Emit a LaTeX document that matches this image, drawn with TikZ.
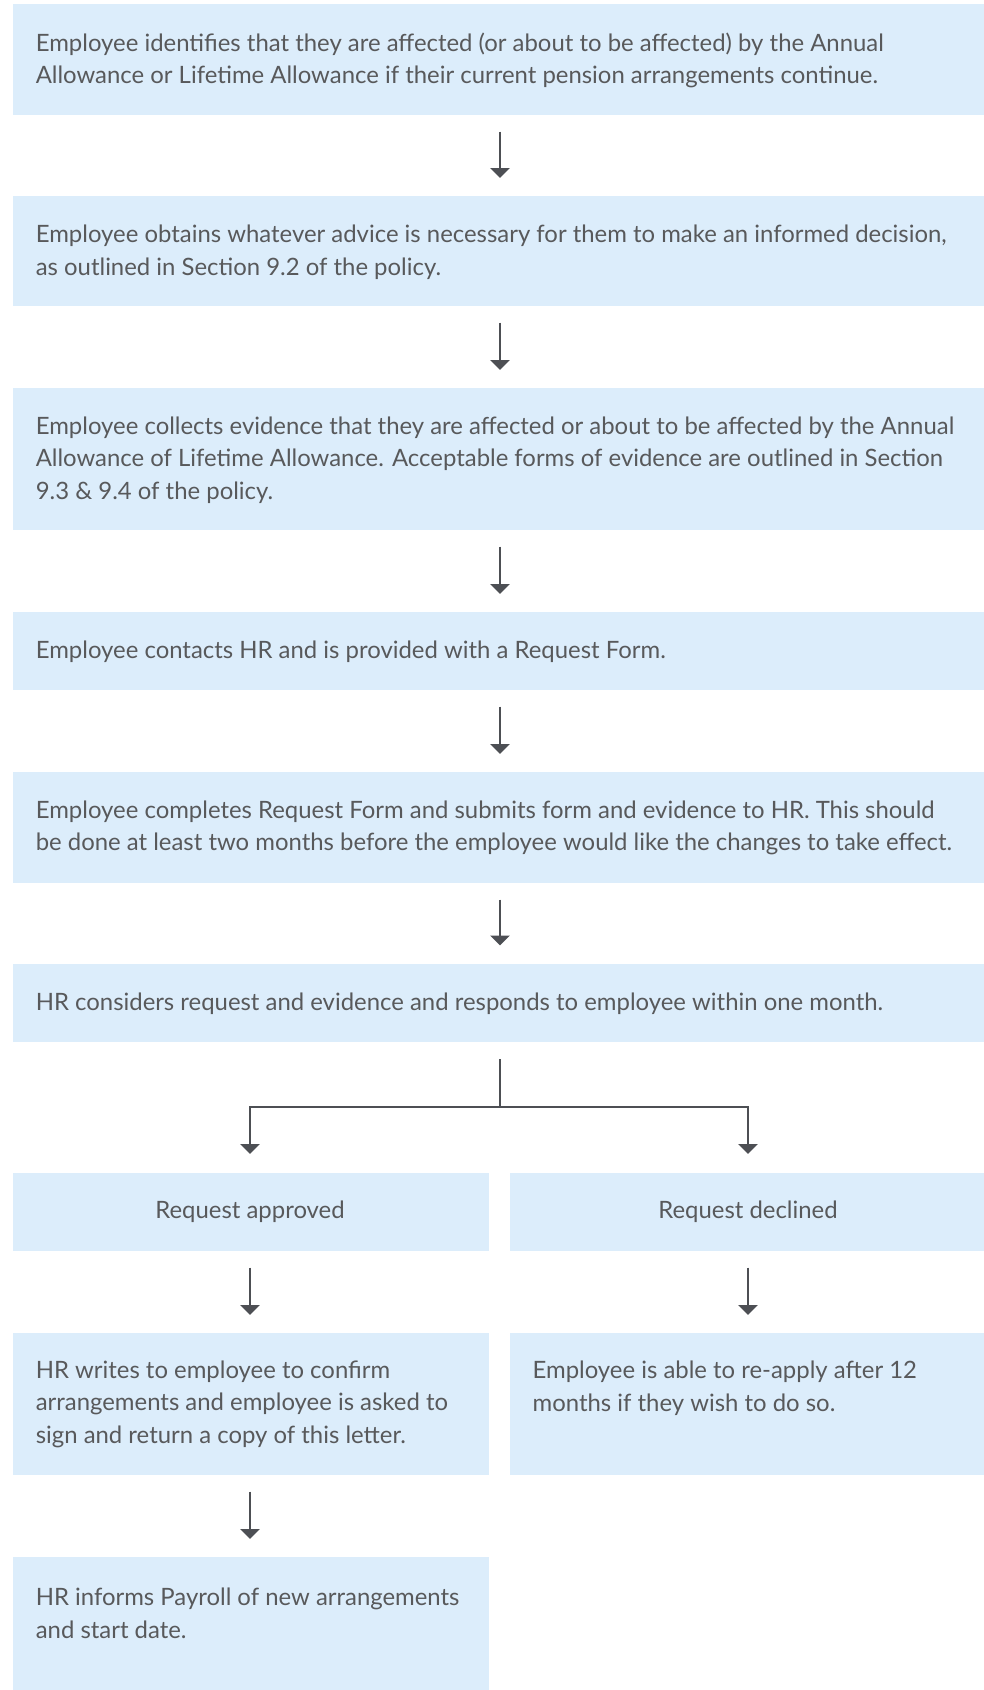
\documentclass[tikz,border=0pt]{standalone}
\usepackage{fontspec}
\setmainfont{Lato}
\usetikzlibrary{arrows.meta}
\definecolor{boxblue}{HTML}{DCEDFB}
\definecolor{txtgrey}{HTML}{58595B}
\definecolor{arrgrey}{HTML}{4D4F54}
\begin{document}
\begin{tikzpicture}[x=1pt,y=-1pt,
  box/.style={fill=boxblue, draw=none, inner sep=0pt, outer sep=0pt, anchor=north west},
  txt/.style={text=txtgrey, font=\fontsize{23.9}{32.3}\selectfont, align=left, inner sep=0pt, anchor=west},
  ctxt/.style={text=txtgrey, font=\fontsize{23.9}{32.3}\selectfont, align=center, inner sep=0pt, anchor=center},
  arr/.style={draw=arrgrey, line width=2.6pt, -{Triangle[width=19pt,length=10pt]}, shorten <=16.5pt, shorten >=18pt},
  ln/.style={draw=arrgrey, line width=2.6pt}]
\useasboundingbox (0,0) rectangle (984,1690);
\fill[white] (0,0) rectangle (984,1690);
\coordinate (ax) at (500,0);
\coordinate (lx) at (250,0);
\coordinate (rx) at (748,0);

\node[box, minimum width=971pt, minimum height=111pt] (b1) at (13,4) {};
\node[box, minimum width=971pt, minimum height=110pt] (b2) at (13,196) {};
\node[box, minimum width=971pt, minimum height=142pt] (b3) at (13,388) {};
\node[box, minimum width=971pt, minimum height=78pt] (b4) at (13,612) {};
\node[box, minimum width=971pt, minimum height=111pt] (b5) at (13,772) {};
\node[box, minimum width=971pt, minimum height=78.5pt] (b6) at (13,963.5) {};
\node[box, minimum width=476pt, minimum height=78pt] (b7a) at (13,1173) {};
\node[box, minimum width=474pt, minimum height=78pt] (b7b) at (510,1173) {};
\node[box, minimum width=476pt, minimum height=142pt] (b8a) at (13,1333) {};
\node[box, minimum width=474pt, minimum height=142pt] (b8b) at (510,1333) {};
\node[box, minimum width=476pt, minimum height=133pt] (b9) at (13,1557) {};

\node[txt] (t1) at (35.6,60.3) {Employee identifies that they are affected (or about to be affected) by the Annual\\Allowance or Lifetime Allowance if their current pension arrangements continue.};
\node[txt] (t2) at (35.6,252.1) {Employee obtains whatever advice is necessary for them to make an informed decision,\\as outlined in Section 9.2 of the policy.};
\node[txt] (t3) at (35.6,460.1) {Employee collects evidence that they are affected or about to be affected by the Annual\\Allowance of Lifetime Allowance. Acceptable forms of evidence are outlined in Section\\9.3 \& 9.4 of the policy.};
\node[txt] (t4) at (35.6,652) {Employee contacts HR and is provided with a Request Form.};
\node[txt] (t5) at (35.6,827.7) {Employee completes Request Form and submits form and evidence to HR. This should\\be done at least two months before the employee would like the changes to take effect.};
\node[txt] (t6) at (35.6,1003.4) {HR considers request and evidence and responds to employee within one month.};
\node[ctxt] (t7a) at (250,1211.4) {Request approved};
\node[ctxt] (t7b) at (748,1211.4) {Request declined};
\node[txt] (t8a) at (35.6,1404.3) {HR writes to employee to confirm\\arrangements and employee is asked to\\sign and return a copy of this letter.};
\node[txt] (t8b) at (532.4,1388.1) {Employee is able to re-apply after 12\\months if they wish to do so.};
\node[txt] (t9) at (35.6,1613.4) {HR informs Payroll of new arrangements\\and start date.};

\draw[arr] (b1.south -| ax) -- (b2.north -| ax);
\draw[arr] (b2.south -| ax) -- (b3.north -| ax);
\draw[arr] (b3.south -| ax) -- (b4.north -| ax);
\draw[arr] (b4.south -| ax) -- (b5.north -| ax);
\draw[arr] (b5.south -| ax) -- (b6.north -| ax);

\coordinate (j) at (500,1107);
\draw[ln, shorten <=17pt] (b6.south -| ax) -- (j);
\draw[arr, shorten <=0pt, shorten >=19pt] (j) -| (b7a.north -| lx);
\draw[arr, shorten <=0pt, shorten >=19pt] (j) -| (b7b.north -| rx);

\draw[arr] (b7a.south -| lx) -- (b8a.north -| lx);
\draw[arr] (b7b.south -| rx) -- (b8b.north -| rx);
\draw[arr] (b8a.south -| lx) -- (b9.north -| lx);
\end{tikzpicture}
\end{document}
